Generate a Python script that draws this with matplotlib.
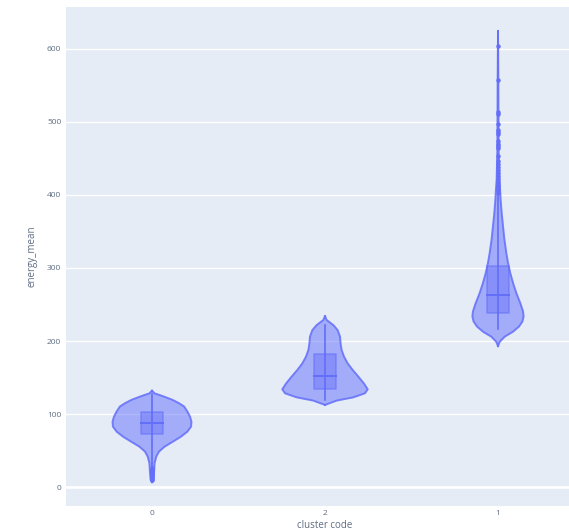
import matplotlib.pyplot as plt

# categories as they appear on the x axis
categories = ["0", "2", "1"]

# violin outlines: energy_mean levels and half widths (in category units)
v0_y = [7, 10, 21, 33, 42, 48.7, 55.6, 62, 69, 76, 83, 89.7, 96.6, 103.8, 110.6, 115, 119.6, 124, 128.5, 132]
v0_w = [0, 0.008, 0.012, 0.015, 0.025, 0.04, 0.073, 0.118, 0.166, 0.204, 0.226, 0.228, 0.22, 0.204, 0.185, 0.156, 0.118, 0.07, 0.015, 0]

v2_y = [112.6, 118.5, 123, 128.5, 134, 142, 151.3, 160.4, 169.5, 178.6, 187.7, 196.8, 206, 215, 221.9, 228.7, 234]
v2_w = [0, 0.067, 0.164, 0.231, 0.247, 0.225, 0.193, 0.16, 0.131, 0.11, 0.096, 0.09, 0.087, 0.073, 0.048, 0.01, 0]

v1_y = [193, 199, 206, 212.8, 219.7, 226.6, 233.5, 240.4, 251.8, 265.6, 279.4, 293, 306.9, 320.6, 339, 357.3,
        375.7, 394, 407.8, 420, 440, 460, 500, 560, 624]
v1_w = [0, 0.01, 0.039, 0.087, 0.121, 0.141, 0.148, 0.145, 0.129, 0.106, 0.087, 0.071, 0.058, 0.048, 0.037, 0.029,
        0.021, 0.015, 0.012, 0.008, 0.006, 0.004, 0.003, 0.002, 0]

# box stats per category: whisker low, q1, median, q3, whisker high
box_lo = [28, 120, 216]
box_q1 = [72.4, 134.4, 239]
box_med = [87.5, 152.2, 263.3]
box_q3 = [103.4, 181.8, 303.2]
box_hi = [127, 222, 399]

# outlier points
out0 = [26, 24, 22, 20, 18, 16, 14, 12, 10]
out2 = []
out1 = [603, 557, 513, 511, 497, 489, 486, 483, 474, 470, 467, 464, 453, 446, 442, 438, 434,
        430, 426, 422, 418, 414, 410, 406, 402]

yticks = [0, 100, 200, 300, 400, 500, 600]

blue = "#636efa"
txt = "#5f6d82"
plt.rcParams["font.family"] = ["Open Sans", "DejaVu Sans"]

fig = plt.figure(figsize=(5.69, 5.32), dpi=100)
ax = fig.add_axes([65.5 / 569, 1 - 506 / 532, 519 / 569, 499 / 532])
ax.set_facecolor("#e5ecf6")

violins = [(v0_y, v0_w), (v2_y, v2_w), (v1_y, v1_w)]
outs = [out0, out2, out1]
bw = 0.064
for i, (vy, vw) in enumerate(violins):
    left = [i - w for w in vw]
    right = [i + w for w in vw]
    ax.fill_betweenx(vy, left, right, facecolor=blue, alpha=0.5, edgecolor="none", zorder=2)
    ax.plot(left, vy, color=blue, lw=1.4, alpha=0.85, zorder=3)
    ax.plot(right, vy, color=blue, lw=1.4, alpha=0.85, zorder=3)
    # whisker
    lo = min([box_lo[i]] + outs[i])
    ax.plot([i, i], [lo, box_hi[i]], color=blue, lw=1.2, zorder=4)
    # box
    ax.fill_between([i - bw, i + bw], box_q1[i], box_q3[i], facecolor=blue, alpha=0.45,
                    edgecolor=blue, lw=1.4, zorder=4)
    ax.plot([i - bw, i + bw], [box_med[i], box_med[i]], color=blue, lw=1.4, zorder=5)
    if outs[i]:
        ax.plot([i] * len(outs[i]), outs[i], "o", color=blue, ms=3.2, mew=0, zorder=5)

ax.set_xlim(-0.5, 2.5)
ax.set_ylim(-25.6, 656.8)
ax.set_xticks(range(len(categories)))
ax.set_xticklabels(categories)
ax.set_yticks(yticks)
ax.grid(True, axis="y", color="white", lw=1)
ax.axhline(0, color="white", lw=1.8, zorder=1)
ax.set_axisbelow(True)
for s in ax.spines.values():
    s.set_visible(False)
ax.tick_params(length=0, labelsize=6, labelcolor=txt, pad=3)
ax.set_xlabel("cluster code", fontsize=7, color=txt, labelpad=2)
ax.set_ylabel("energy_mean", fontsize=7, color=txt, labelpad=7)

fig.savefig("out.png", dpi=100)
